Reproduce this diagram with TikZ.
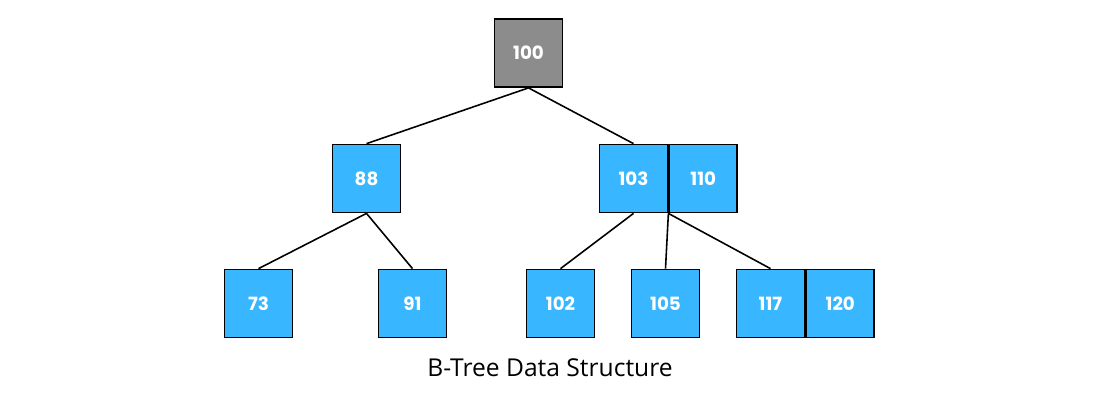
\documentclass[tikz,border=0pt]{standalone}
\usepackage{fontspec}
\setmainfont{Open Sans}
\newfontfamily\numfont{Poppins}
\usetikzlibrary{positioning}
\definecolor{keyblue}{HTML}{38B6FF}
\definecolor{rootgray}{HTML}{8C8C8C}
\tikzset{
  key/.style={draw=black,fill=keyblue,minimum size=0.68cm,inner sep=0pt,line width=0.5pt,text=white,font=\numfont\bfseries\fontsize{5.2}{6}\selectfont},
  rootkey/.style={key,fill=rootgray},
  edge/.style={line width=0.45pt}
}
\begin{document}
\begin{tikzpicture}
    \useasboundingbox (0,0) rectangle (11,-4);
    \node[rootkey] (n100) at (5.285,-0.53) {100};
    \node[key] (n88) at (3.665,-1.785) {88};
    \node[key] (n103) at (6.335,-1.785) {103};
    \node[key,right=0pt of n103] (n110) {110};
    \node[key] (n73) at (2.585,-3.035) {73};
    \node[key] (n91) at (4.125,-3.035) {91};
    \node[key] (n102) at (5.605,-3.035) {102};
    \node[key] (n105) at (6.655,-3.035) {105};
    \node[key] (n117) at (7.705,-3.035) {117};
    \node[key,right=0pt of n117] (n120) {120};
    \node[font=\fontsize{7}{8}\selectfont] (cap) at (5.5,-3.68) {B-Tree Data Structure};
    \draw[edge] (n100.south) -- (n88.north);
    \draw[edge] (n100.south) -- (n103.north);
    \draw[edge] (n88.south) -- (n73.north);
    \draw[edge] (n88.south) -- (n91.north);
    \draw[edge] (n103.south) -- (n102.north);
    \draw[edge] (n103.south east) -- (n105.north);
    \draw[edge] (n103.south east) -- (n117.north);
\end{tikzpicture}
\end{document}
